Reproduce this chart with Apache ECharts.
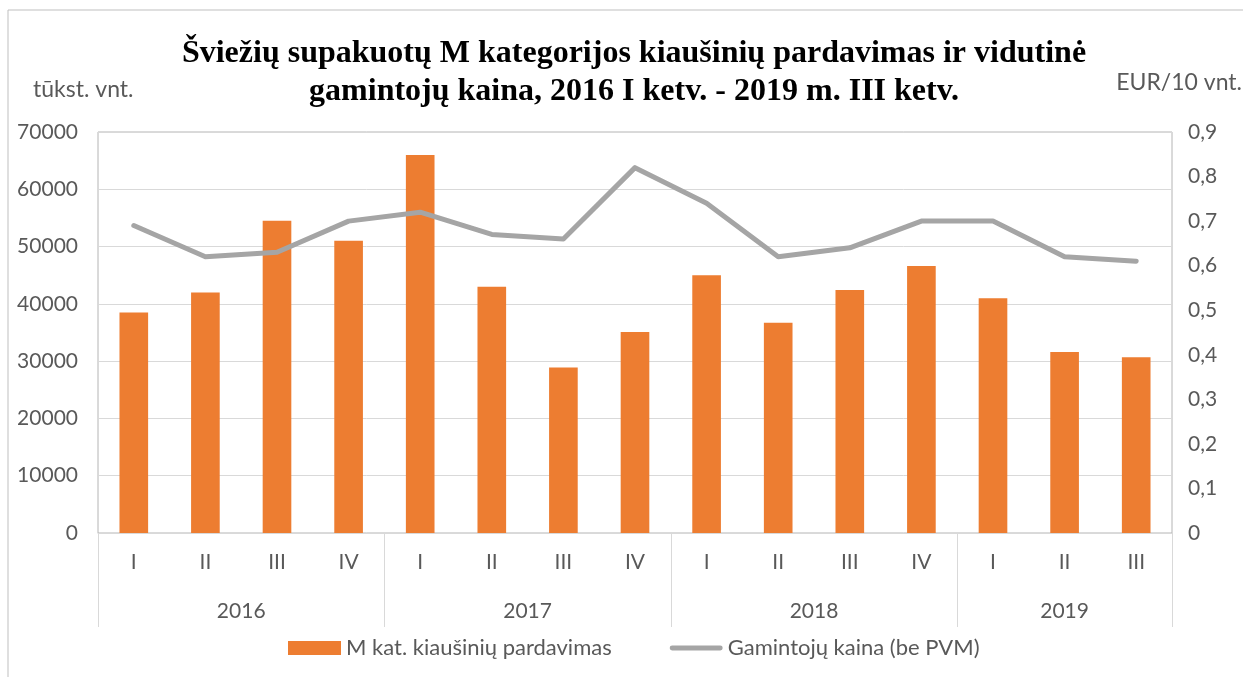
<!DOCTYPE html>
<html>
<head>
<meta charset="utf-8">
<script src="https://cdn.jsdelivr.net/npm/echarts@6/dist/echarts.min.js"></script>
<style>
  html, body { margin: 0; padding: 0; background: #fff; }
  #chart { width: 1243px; height: 677px; }
</style>
</head>
<body>
<div id="chart"></div>
<script>
// ketvirčiai ir metai
const quarters = ['I', 'II', 'III', 'IV', 'I', 'II', 'III', 'IV', 'I', 'II', 'III', 'IV', 'I', 'II', 'III'];
const years = ['2016', '2017', '2018', '2019'];
// kiek ketvirčių kiekvienais metais
const yearQuarters = [4, 4, 4, 3];

// M kat. kiaušinių pardavimas, tūkst. vnt.
const salesData = [38500, 42000, 54500, 51000, 66000, 43000, 28900, 35100, 45000, 36700, 42400, 46600, 41000, 31600, 30700];
// Gamintojų kaina (be PVM), EUR/10 vnt.
const priceData = [0.69, 0.62, 0.63, 0.70, 0.72, 0.67, 0.66, 0.82, 0.74, 0.62, 0.64, 0.70, 0.70, 0.62, 0.61];

const font = 'Lato, "Open Sans", sans-serif';
const textColor = '#595959';

// metų etikečių vietos (grupės vidurys) ir skiriamosios ribos
let yearCenters = {};
let yearStarts = [0];
let pos = 0;
yearQuarters.forEach(function (n, i) {
  yearCenters[pos + n / 2] = years[i];
  pos += n;
  yearStarts.push(pos);
});

const chart = echarts.init(document.getElementById('chart'));

const option = {
  animation: false,
  backgroundColor: '#fff',
  title: {
    text: 'Šviežių supakuotų M kategorijos kiaušinių pardavimas ir vidutinė\ngamintojų kaina, 2016 I ketv. - 2019 m. III ketv.',
    left: 629,
    top: 30,
    textAlign: 'center',
    textStyle: {
      fontFamily: '"Liberation Serif", serif',
      fontWeight: 'bold',
      fontSize: 32,
      lineHeight: 38,
      color: '#000'
    }
  },
  graphic: [
    {
      type: 'rect',
      shape: { x: 8, y: 10, width: 1300, height: 700 },
      style: { fill: 'none', stroke: '#BFBFBF', lineWidth: 1 },
      silent: true
    },
    {
      type: 'text',
      left: 33,
      top: 78,
      style: { text: 'tūkst. vnt.', fontFamily: font, fontSize: 23, fill: textColor }
    },
    {
      type: 'text',
      right: 1,
      top: 71,
      style: { text: 'EUR/10 vnt.', fontFamily: font, fontSize: 23, fill: textColor }
    }
  ],
  legend: {
    left: 283,
    top: 632,
    itemWidth: 53,
    itemHeight: 14,
    itemGap: 58,
    textStyle: { fontFamily: font, fontSize: 22, color: textColor },
    data: [
      { name: 'M kat. kiaušinių pardavimas', icon: 'rect' },
      { name: 'Gamintojų kaina (be PVM)', icon: 'path://M2.5,0 L51.5,0 A2.5,2.5 0 0 1 51.5,5 L2.5,5 A2.5,2.5 0 0 1 2.5,0 Z' }
    ]
  },
  grid: {
    left: 98,
    right: 71,
    top: 132,
    bottom: 144,
    show: true,
    borderColor: '#B4B4B4',
    borderWidth: 1
  },
  xAxis: [
    {
      type: 'category',
      data: quarters,
      axisLine: { lineStyle: { color: '#D9D9D9', width: 1 } },
      axisTick: {
        show: true,
        length: 94,
        interval: function (index) { return yearStarts.indexOf(index) >= 0; },
        lineStyle: { color: '#D9D9D9', width: 1 }
      },
      axisLabel: { interval: 0, margin: 19, fontFamily: font, fontSize: 21, color: textColor }
    },
    {
      type: 'value',
      position: 'bottom',
      min: 0,
      max: quarters.length,
      interval: 0.5,
      axisLine: { show: false },
      axisTick: { show: false },
      splitLine: { show: false },
      axisLabel: {
        margin: 68,
        fontFamily: font,
        fontSize: 21,
        color: textColor,
        showMinLabel: true,
        showMaxLabel: true,
        formatter: function (v) { return yearCenters[v] || ''; }
      }
    }
  ],
  yAxis: [
    {
      type: 'value',
      min: 0,
      max: 70000,
      interval: 10000,
      axisLine: { show: false },
      axisTick: { show: false },
      splitLine: { lineStyle: { color: '#D9D9D9', width: 1 } },
      axisLabel: {
        margin: 20,
        fontFamily: font,
        fontSize: 21,
        color: textColor,
        formatter: function (v) { return String(v); }
      }
    },
    {
      type: 'value',
      min: 0,
      max: 0.9,
      interval: 0.1,
      axisLine: { show: false },
      axisTick: { show: false },
      splitLine: { show: false },
      axisLabel: {
        margin: 16,
        fontFamily: font,
        fontSize: 21,
        color: textColor,
        formatter: function (v) { return String(Math.round(v * 10) / 10).replace('.', ','); }
      }
    }
  ],
  series: [
    {
      name: 'M kat. kiaušinių pardavimas',
      type: 'bar',
      data: salesData,
      barWidth: '40%',
      itemStyle: { color: '#ED7D31' }
    },
    {
      name: 'Gamintojų kaina (be PVM)',
      type: 'line',
      yAxisIndex: 1,
      data: priceData,
      symbol: 'none',
      lineStyle: { color: '#A5A5A5', width: 5, cap: 'round', join: 'round' },
      itemStyle: { color: '#A5A5A5' }
    }
  ]
};

chart.setOption(option);
</script>
</body>
</html>
